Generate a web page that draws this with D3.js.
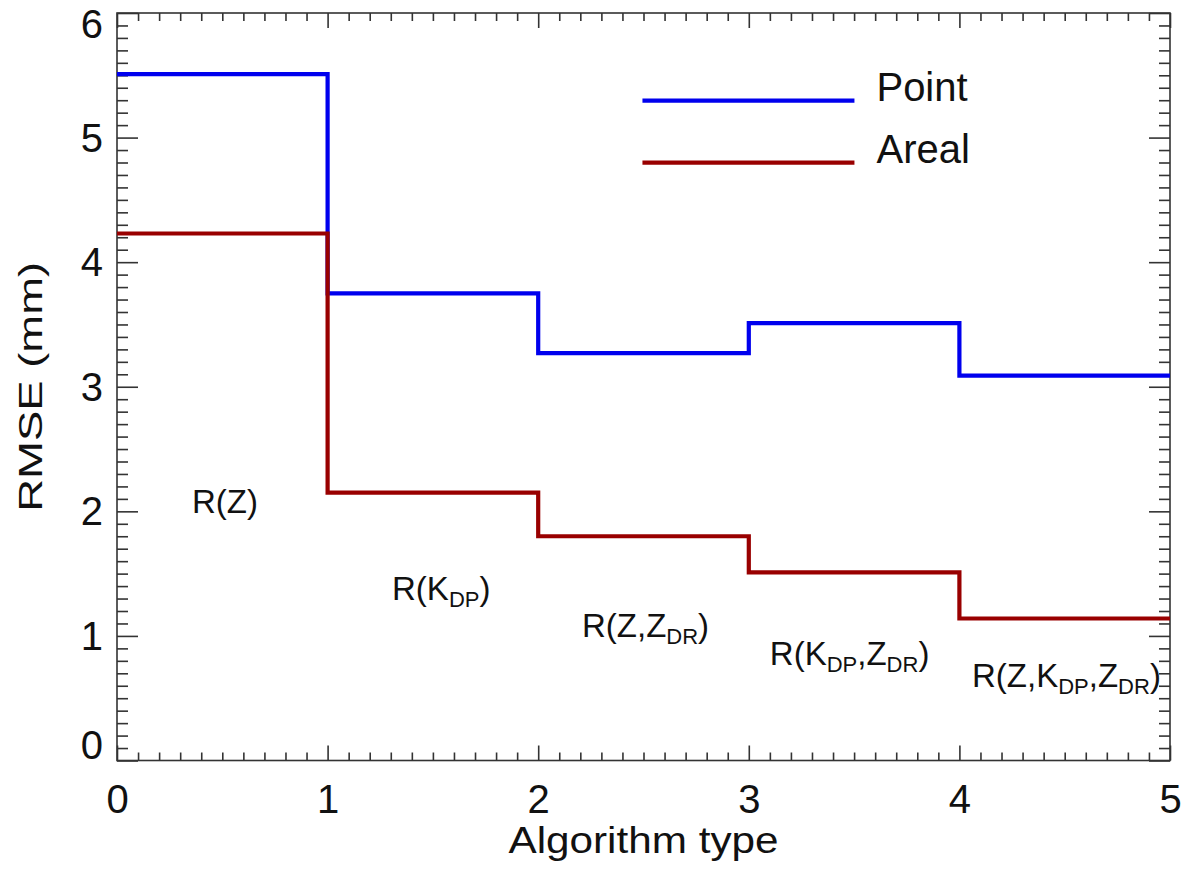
<!DOCTYPE html>
<html lang="en">
<head>
<meta charset="utf-8">
<title>RMSE by algorithm type</title>
<script src="https://d3js.org/d3.v7.min.js"></script>
<style>
  body { margin: 0; background: #fff; }
  svg text { font-family: "Liberation Sans", Arial, Helvetica, sans-serif; fill: #111; }
  .axis path.domain { display: none; }
  .axis line { stroke: #333; stroke-width: 1.6; }
</style>
</head>
<body>
<div id="chart"></div>
<script>
// step edges along x (algorithm type) and RMSE per algorithm
const stepEdges = [0, 1, 2, 3, 4, 5];
const pointRmse = [5.51, 3.75, 3.27, 3.51, 3.09];
const arealRmse = [4.23, 2.15, 1.80, 1.51, 1.14];
const seriesNames = ["Point", "Areal"];
const xTicks = [0, 1, 2, 3, 4, 5];
const yTicks = [0, 1, 2, 3, 4, 5, 6];
// algorithm labels: [text, isSubscript]
const algoLabels = [
  [["R(Z)", 0]],
  [["R(K", 0], ["DP", 1], [")", 0]],
  [["R(Z,Z", 0], ["DR", 1], [")", 0]],
  [["R(K", 0], ["DP", 1], [",Z", 0], ["DR", 1], [")", 0]],
  [["R(Z,K", 0], ["DP", 1], [",Z", 0], ["DR", 1], [")", 0]]
];
// where each label starts (data units: x, baseline y)
const labelAnchors = [[0.356, 1.99], [1.306, 1.29], [2.208, 0.99], [3.10, 0.77], [4.06, 0.59]];

const width = 1184;
const height = 869;
const plotLeft = 117, plotRight = 1170, plotTop = 13, plotBottom = 760.5;

const svg = d3.select("#chart")
  .append("svg")
  .attr("width", width)
  .attr("height", height);

const xScale = d3.scaleLinear().domain([0, 5]).range([plotLeft, plotRight]);
const yScale = d3.scaleLinear().domain([0, 6]).range([plotBottom, plotTop]);

const xMinor = d3.range(0, 50).filter(i => i % 10 !== 0).map(i => i / 10);
const yMinor = d3.range(0, 60).filter(i => i % 10 !== 0).map(i => i / 10);

// bottom axis
svg.append("g").attr("class", "axis")
  .attr("transform", `translate(0,${plotBottom})`)
  .call(d3.axisBottom(xScale).tickValues(xMinor).tickSize(-8).tickFormat(""));
const xAxisG = svg.append("g").attr("class", "axis")
  .attr("transform", `translate(0,${plotBottom})`)
  .call(d3.axisBottom(xScale).tickValues(xTicks).tickSize(-15).tickPadding(24).tickFormat(d3.format("d")));
xAxisG.selectAll("text").style("font-size", "40px");

// top axis (ticks only)
svg.append("g").attr("class", "axis")
  .attr("transform", `translate(0,${plotTop})`)
  .call(d3.axisTop(xScale).tickValues(xMinor).tickSize(-8).tickFormat(""));
svg.append("g").attr("class", "axis")
  .attr("transform", `translate(0,${plotTop})`)
  .call(d3.axisTop(xScale).tickValues(xTicks).tickSize(-15).tickFormat(""));

// left axis
svg.append("g").attr("class", "axis")
  .attr("transform", `translate(${plotLeft},0)`)
  .call(d3.axisLeft(yScale).tickValues(yMinor).tickSize(-11).tickFormat(""));
const yAxisG = svg.append("g").attr("class", "axis")
  .attr("transform", `translate(${plotLeft},0)`)
  .call(d3.axisLeft(yScale).tickValues(yTicks).tickSize(-21).tickPadding(14).tickFormat(d3.format("d")));
yAxisG.selectAll("text").style("font-size", "40px")
  .attr("dy", d => d === 0 ? "-0.05em" : d === 6 ? "0.62em" : "0.34em");

// right axis (ticks only)
svg.append("g").attr("class", "axis")
  .attr("transform", `translate(${plotRight},0)`)
  .call(d3.axisRight(yScale).tickValues(yMinor).tickSize(-11).tickFormat(""));
svg.append("g").attr("class", "axis")
  .attr("transform", `translate(${plotRight},0)`)
  .call(d3.axisRight(yScale).tickValues(yTicks).tickSize(-21).tickFormat(""));

// frame
svg.append("rect")
  .attr("x", plotLeft).attr("y", plotTop)
  .attr("width", plotRight - plotLeft).attr("height", plotBottom - plotTop)
  .attr("fill", "none").attr("stroke", "#333").attr("stroke-width", 1.6);

// step lines
const stepLine = d3.line()
  .x(d => xScale(d[0]))
  .y(d => yScale(d[1]))
  .curve(d3.curveStepAfter);

function stepPoints(vals) {
  const pts = vals.map((v, i) => [stepEdges[i], v]);
  pts.push([stepEdges[vals.length], vals[vals.length - 1]]);
  return pts;
}

const colors = ["#0000ee", "#990000"];
[pointRmse, arealRmse].forEach((vals, i) => {
  svg.append("path")
    .datum(stepPoints(vals))
    .attr("fill", "none")
    .attr("stroke", colors[i])
    .attr("stroke-width", 4.2)
    .attr("d", stepLine);
});

// legend
const legend = svg.append("g").attr("transform", `translate(${xScale(2.495)},${yScale(5.297)})`);
seriesNames.forEach((name, i) => {
  const row = legend.append("g").attr("transform", `translate(0,${i * 62})`);
  row.append("line").attr("x1", 0).attr("x2", 212).attr("y1", 0).attr("y2", 0)
    .attr("stroke", colors[i]).attr("stroke-width", 4.2);
  row.append("text").attr("x", 234).attr("y", 0)
    .style("font-size", "40px").text(name);
});

// algorithm labels
algoLabels.forEach((parts, i) => {
  const t = svg.append("text")
    .attr("x", xScale(labelAnchors[i][0]))
    .attr("y", yScale(labelAnchors[i][1]))
    .style("font-size", "33px");
  let shifted = false;
  parts.forEach(([txt, sub]) => {
    const ts = t.append("tspan").text(txt);
    if (sub && !shifted) { ts.attr("dy", 7).style("font-size", "22px"); shifted = true; }
    else if (sub) { ts.style("font-size", "22px"); }
    else if (shifted) { ts.attr("dy", -7); shifted = false; }
  });
});

// axis titles
svg.append("text")
  .attr("x", (plotLeft + plotRight) / 2)
  .attr("y", 853)
  .attr("text-anchor", "middle")
  .attr("textLength", 270)
  .attr("lengthAdjust", "spacingAndGlyphs")
  .style("font-size", "36px")
  .text("Algorithm type");

svg.append("text")
  .attr("transform", `translate(42,${(plotTop + plotBottom) / 2}) rotate(-90)`)
  .attr("text-anchor", "middle")
  .attr("textLength", 250)
  .attr("lengthAdjust", "spacingAndGlyphs")
  .style("font-size", "34px")
  .text("RMSE (mm)");
</script>
</body>
</html>
